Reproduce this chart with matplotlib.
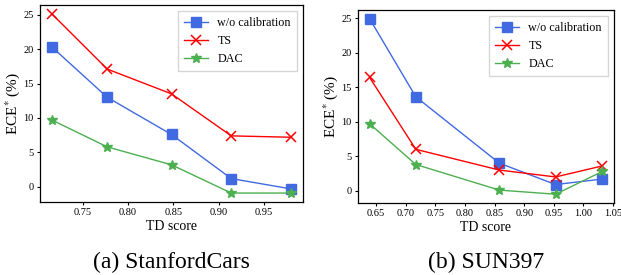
import matplotlib
matplotlib.use('Agg')
import matplotlib.pyplot as plt

plt.rcParams['font.family'] = ['Liberation Serif', 'DejaVu Serif']
plt.rcParams['mathtext.fontset'] = 'stix'

# ---- data ----
cars_td = [0.716, 0.777, 0.848, 0.914, 0.980]
cars_wo = [20.3, 13.0, 7.6, 1.2, -0.3]
cars_ts = [25.1, 17.1, 13.5, 7.4, 7.2]
cars_dac = [9.7, 5.8, 3.2, -0.9, -0.9]
cars_xticks = [0.75, 0.80, 0.85, 0.90, 0.95]

sun_td = [0.639, 0.717, 0.858, 0.953, 1.032]
sun_wo = [24.9, 13.6, 4.0, 0.9, 1.7]
sun_ts = [16.4, 6.0, 3.0, 2.0, 3.6]
sun_dac = [9.7, 3.8, 0.1, -0.5, 2.8]
sun_xticks = [0.65, 0.70, 0.75, 0.80, 0.85, 0.90, 0.95, 1.00, 1.05]

yticks = [0, 5, 10, 15, 20, 25]
labels = ['w/o calibration', 'TS', 'DAC']
captions = ['(a) StanfordCars', '(b) SUN397']

W, H = 621, 275
fig = plt.figure(figsize=(W / 100, H / 100), dpi=100)

# axes boxes in pixels: left, top, right, bottom
boxes = [(40, 5, 303, 202), (358, 10, 614, 203)]
panels = [(cars_td, cars_wo, cars_ts, cars_dac, cars_xticks),
          (sun_td, sun_wo, sun_ts, sun_dac, sun_xticks)]

for (l, t, r, b), (x, wo, ts, dac, xt), cap in zip(boxes, panels, captions):
    ax = fig.add_axes([l / W, 1 - b / H, (r - l) / W, (b - t) / H])
    ax.plot(x, wo, color='royalblue', marker='s', markersize=6.5, linewidth=1, label=labels[0])
    ax.plot(x, ts, color='red', marker='x', markersize=7, markeredgewidth=1.1, linewidth=1, label=labels[1])
    ax.plot(x, dac, color='#4caf50', marker='*', markersize=7, linewidth=1, label=labels[2])
    ax.set_xticks(xt)
    ax.set_xticklabels(['%.2f' % v for v in xt])
    ax.set_yticks(yticks)
    ax.tick_params(labelsize=7.5, length=2.5, width=0.8, pad=2)
    ax.set_xlabel('TD score', fontsize=10, labelpad=2)
    ax.set_ylabel(r'ECE$^{*}$ (%)', fontsize=11, labelpad=1)
    ax.legend(loc='upper right', fontsize=8.7, fancybox=False, edgecolor='#cccccc',
              handlelength=2.0, borderpad=0.5, labelspacing=0.5, handletextpad=0.8)
    for s in ax.spines.values():
        s.set_linewidth(0.9)
    fig.text(((l + r) / 2) / W, 1 - 262 / H, cap, ha='center', va='center', fontsize=17)

fig.savefig('out.png', dpi=100)
